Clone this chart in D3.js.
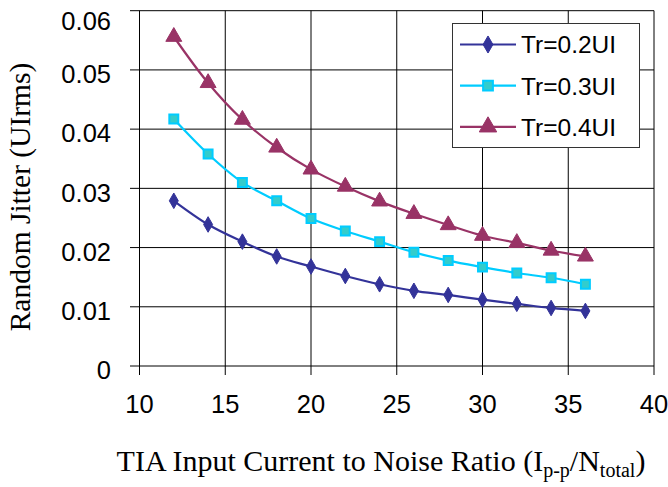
<!DOCTYPE html>
<html><head><meta charset="utf-8">
<script src="https://cdn.jsdelivr.net/npm/d3@7/dist/d3.min.js"></script>
<style>body{margin:0;background:#fff}svg{display:block}</style>
</head><body>
<script>
const xValues = [12,14,16,18,20,22,24,26,28,30,32,34,36];
const seriesNames = ["Tr=0.2UI","Tr=0.3UI","Tr=0.4UI"];
const tr02 = [0.0279,0.0239,0.0210,0.0185,0.0168,0.0152,0.0138,0.0127,0.0120,0.0112,0.0105,0.0098,0.0093];
const tr03 = [0.0417,0.0358,0.0310,0.0279,0.0249,0.0228,0.0210,0.0192,0.0178,0.0167,0.0157,0.0149,0.0138];
const tr04 = [0.0556,0.0478,0.0416,0.0369,0.0332,0.0303,0.0278,0.0257,0.0238,0.0220,0.0208,0.0195,0.0185];
const xTicks = [10,15,20,25,30,35,40];
const yTicks = [0,0.01,0.02,0.03,0.04,0.05,0.06];
const yTickLabels = ["0","0.01","0.02","0.03","0.04","0.05","0.06"];

const W=668,H=487;
const svg=d3.select("body").append("svg").attr("width",W).attr("height",H);
const x=d3.scaleLinear().domain([10,40]).range([139.5,654]);
const y=d3.scaleLinear().domain([0,0.06]).range([366,10.7]);

// gridlines
svg.append("g").selectAll("line").data(yTicks).join("line")
  .attr("x1",130).attr("x2",654).attr("y1",d=>y(d)).attr("y2",d=>y(d))
  .attr("stroke","#000").attr("stroke-width",1);
svg.append("g").selectAll("line").data(xTicks).join("line")
  .attr("x1",d=>x(d)).attr("x2",d=>x(d)).attr("y1",y(0.06)).attr("y2",375)
  .attr("stroke","#000").attr("stroke-width",1);

// tick labels
svg.append("g").selectAll("text").data(yTicks).join("text")
  .attr("x",111).attr("y",(d)=>Math.max(y(d)+4,21)).attr("dy","0.36em")
  .attr("text-anchor","end").attr("font-family","Liberation Sans, Arial, sans-serif")
  .attr("font-size",25.5).text((d,i)=>yTickLabels[i]);
svg.append("g").selectAll("text").data(xTicks).join("text")
  .attr("x",d=>x(d)).attr("y",404).attr("dy","0.36em")
  .attr("text-anchor","middle").attr("font-family","Liberation Sans, Arial, sans-serif")
  .attr("font-size",25.5).text(d=>d);

// titles
svg.append("text").attr("transform","translate(30,197) rotate(-90)")
  .attr("text-anchor","middle").attr("font-family","Liberation Serif, Times New Roman, serif")
  .attr("font-size",29.5).text("Random Jitter (UIrms)");
const xt=svg.append("text").attr("x",381).attr("y",471)
  .attr("text-anchor","middle").attr("font-family","Liberation Serif, Times New Roman, serif")
  .attr("font-size",30);
xt.append("tspan").text("TIA Input Current to Noise Ratio (I");
xt.append("tspan").attr("font-size",20).attr("dy",6).text("p-p");
xt.append("tspan").attr("dy",-6).text("/N");
xt.append("tspan").attr("font-size",20).attr("dy",6).text("total");
xt.append("tspan").attr("dy",-6).text(")");

const series=[
  {name:seriesNames[0],vals:tr02,line:"#333399",fill:"#333399",sym:d3.symbolDiamond,size:70},
  {name:seriesNames[1],vals:tr03,line:"#00CCFF",fill:"#33CCCC",sym:d3.symbolSquare,size:80},
  {name:seriesNames[2],vals:tr04,line:"#993366",fill:"#993366",sym:d3.symbolTriangle,size:110}
];
const line=d3.line().x((d,i)=>x(xValues[i])).y(d=>y(d)).curve(d3.curveCatmullRom.alpha(0.5));
series.forEach(s=>{
  svg.append("path").datum(s.vals).attr("d",line).attr("fill","none")
    .attr("stroke",s.line).attr("stroke-width",2.2);
  svg.append("g").selectAll("path").data(s.vals).join("path")
    .attr("transform",(d,i)=>`translate(${x(xValues[i])},${y(d)})`)
    .attr("d",d3.symbol().type(s.sym).size(s.size)())
    .attr("fill",s.fill).attr("stroke",s.line).attr("stroke-width",s.sym===d3.symbolSquare?2:1);
});

// legend
const lg=svg.append("g");
lg.append("rect").attr("x",452.5).attr("y",23.5).attr("width",187).attr("height",124)
  .attr("fill","#fff").attr("stroke","#333").attr("stroke-width",1);
series.forEach((s,i)=>{
  const yy=44.5+i*41.2;
  lg.append("line").attr("x1",460).attr("x2",516).attr("y1",yy).attr("y2",yy)
    .attr("stroke",s.line).attr("stroke-width",2.2);
  lg.append("path").attr("transform",`translate(488,${yy})`)
    .attr("d",d3.symbol().type(s.sym).size(s.size*1.2)())
    .attr("fill",s.fill).attr("stroke",s.line).attr("stroke-width",s.sym===d3.symbolSquare?2:1);
  lg.append("text").attr("x",521).attr("y",yy).attr("dy","0.36em")
    .attr("font-family","Liberation Sans, Arial, sans-serif").attr("font-size",24.5).text(s.name);
});
</script>
</body></html>
